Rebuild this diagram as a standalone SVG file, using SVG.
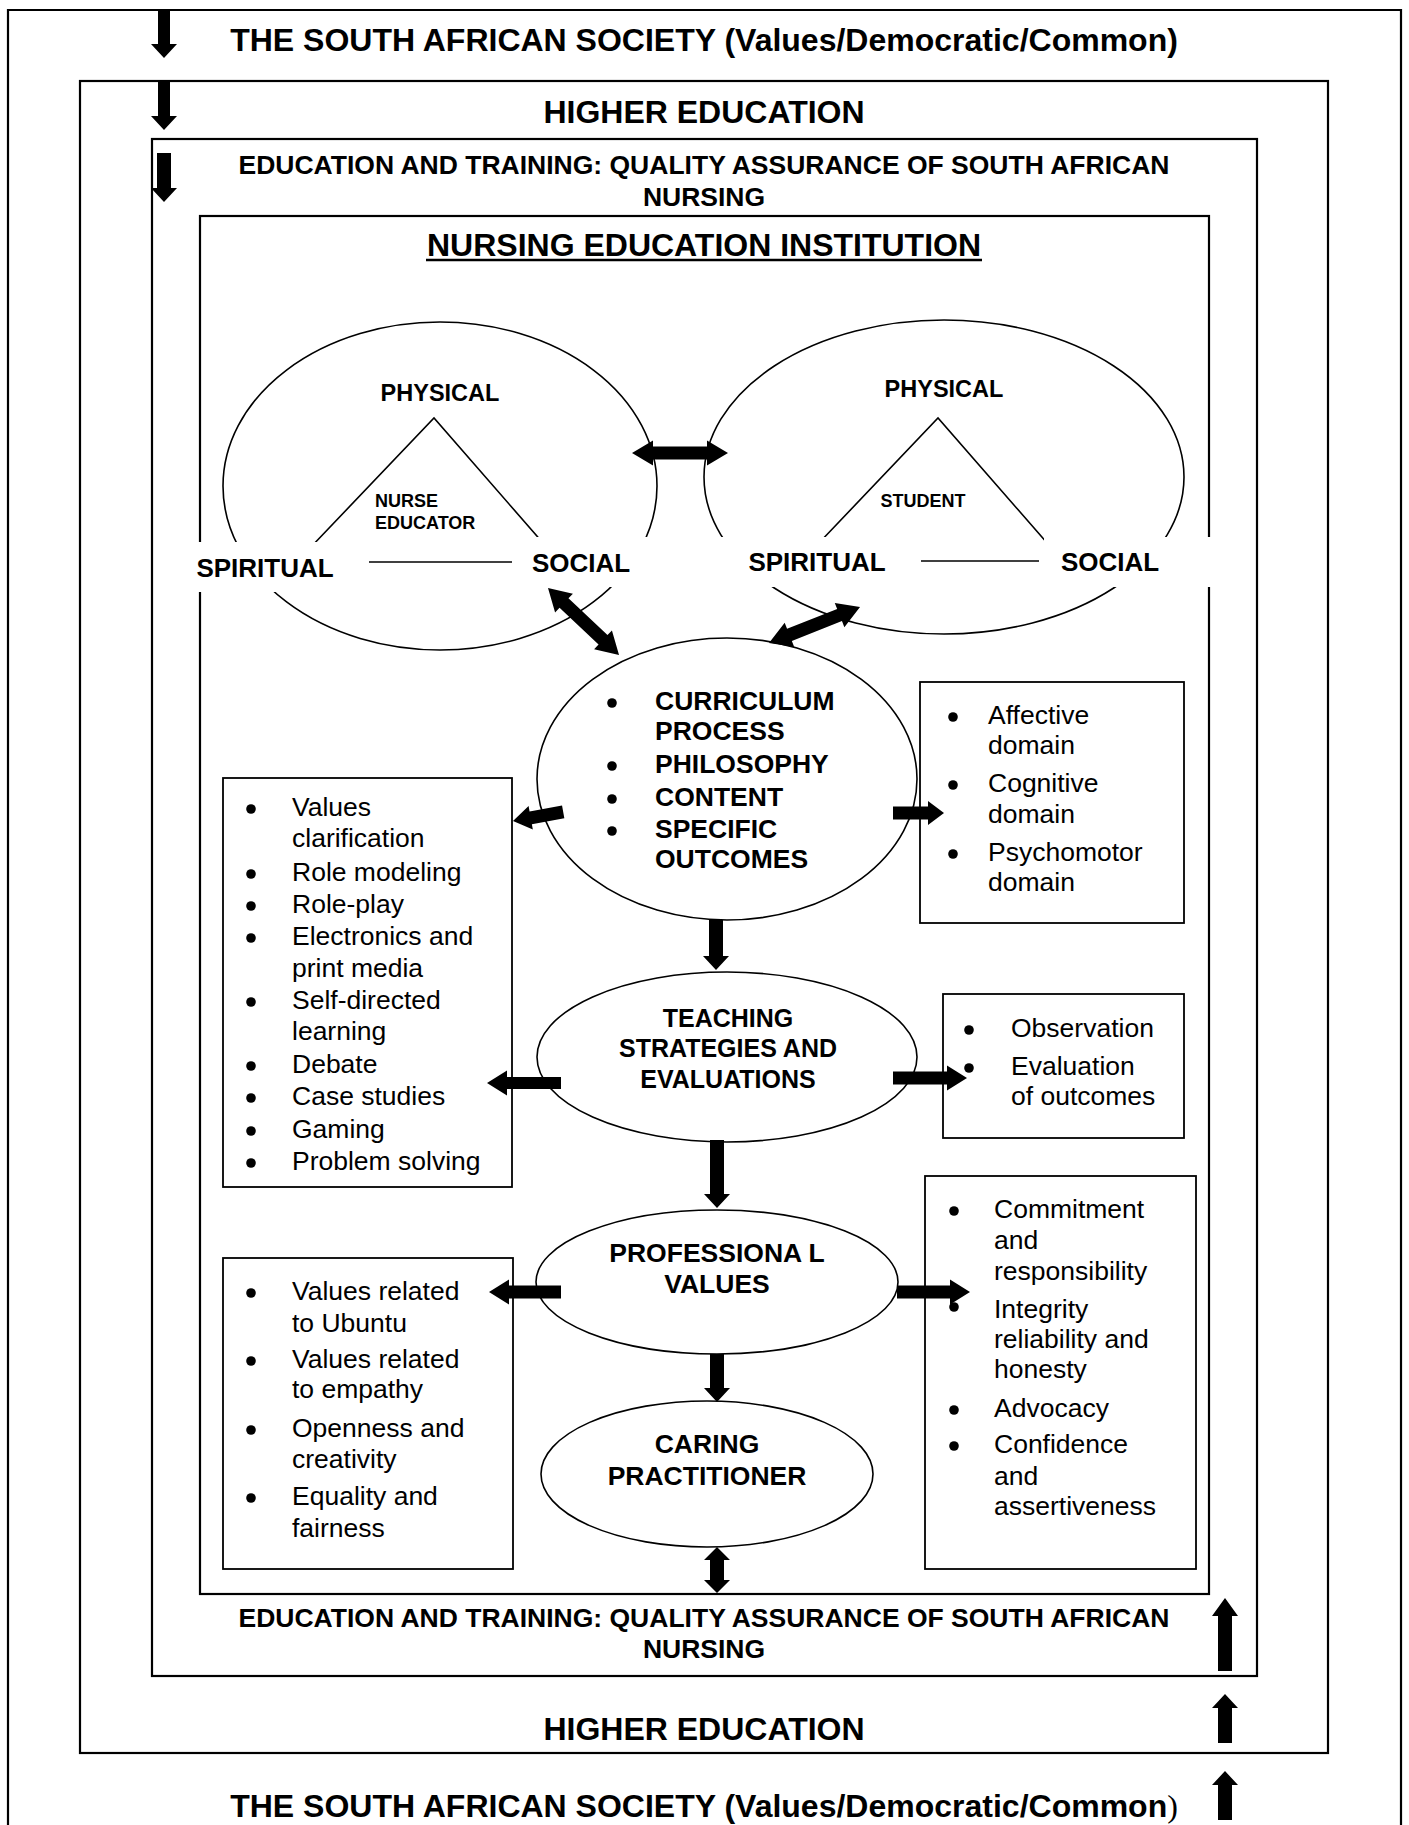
<svg xmlns="http://www.w3.org/2000/svg" width="1409" height="1825" viewBox="0 0 1409 1825">
<style>
text{font-family:"Liberation Sans",Arial,sans-serif;fill:#000}
.title{font-size:32px;font-weight:bold;text-anchor:middle}
.et{font-size:26.5px;font-weight:bold;text-anchor:middle}
.frame{fill:none;stroke:#000;stroke-width:2.2}
.ell{fill:#fff;stroke:#000;stroke-width:1.6}
.line{fill:none;stroke:#000;stroke-width:1.6}
.box{fill:#fff;stroke:#000;stroke-width:1.8}
.mask{fill:#fff}
.arr{fill:#000}
.dot{fill:#000}
.li{font-size:26.5px}
.hd{font-size:26.5px;font-weight:bold}
.hdc{font-size:26.5px;font-weight:bold;text-anchor:middle}
.dim{font-size:26px;font-weight:bold;text-anchor:middle}
.phys{font-size:23.5px;font-weight:bold;text-anchor:middle}
.small{font-size:18px;font-weight:bold}
</style>

<g id="society">
<path class="frame" d="M8,1830 V10 H1401 V1830"/>
<text class="title" x="704" y="51">THE SOUTH AFRICAN SOCIETY (Values/Democratic/Common)</text>
<text class="title" x="704" y="1817">THE SOUTH AFRICAN SOCIETY (Values/Democratic/Common<tspan style="font-family:'Liberation Serif',serif;font-weight:normal">)</tspan></text>
</g>

<g id="higher-education">
<rect class="frame" x="80" y="81" width="1248" height="1672"/>
<text class="title" x="704" y="123">HIGHER EDUCATION</text>
<text class="title" x="704" y="1740">HIGHER EDUCATION</text>
</g>

<g id="education-training">
<rect class="frame" x="152" y="139" width="1105" height="1537"/>
<text class="et" x="704" y="174">EDUCATION AND TRAINING: QUALITY ASSURANCE OF SOUTH AFRICAN</text>
<text class="et" x="704" y="206">NURSING</text>
<text class="et" x="704" y="1627">EDUCATION AND TRAINING: QUALITY ASSURANCE OF SOUTH AFRICAN</text>
<text class="et" x="704" y="1658">NURSING</text>
</g>

<g id="nursing-education-institution">
<rect class="frame" x="200" y="216" width="1009" height="1378"/>
<text class="title" x="704" y="256">NURSING EDUCATION INSTITUTION</text>
<line x1="426" y1="260" x2="982" y2="260" stroke="#000" stroke-width="2.5"/>
</g>

<g id="nurse-educator">
<ellipse class="ell" cx="440" cy="486" rx="217" ry="164"/>
<polyline class="line" points="310,548 434,418 543,543"/>
<line class="line" x1="369" y1="562" x2="512" y2="562"/>
<rect class="mask" x="188" y="542" width="157" height="50"/>
<rect class="mask" x="525" y="537" width="137" height="50"/>
<text class="phys" x="440" y="401">PHYSICAL</text>
<text class="small" x="375" y="507">NURSE</text>
<text class="small" x="375" y="529">EDUCATOR</text>
<text class="dim" x="265" y="577">SPIRITUAL</text>
<text class="dim" x="581" y="572">SOCIAL</text>
</g>

<g id="student">
<ellipse class="ell" cx="944" cy="477" rx="240" ry="157"/>
<polyline class="line" points="818,544 938,418 1048,544"/>
<line class="line" x1="921" y1="561" x2="1039" y2="561"/>
<rect class="mask" x="718" y="537" width="187" height="50"/>
<rect class="mask" x="1044" y="537" width="170" height="50"/>
<text class="phys" x="944" y="397">PHYSICAL</text>
<text class="small" x="923" y="507" text-anchor="middle">STUDENT</text>
<text class="dim" x="817" y="571">SPIRITUAL</text>
<text class="dim" x="1110" y="571">SOCIAL</text>
</g>

<g id="curriculum">
<ellipse class="ell" cx="727" cy="779" rx="190" ry="141"/>
<circle class="dot" cx="612" cy="703" r="4.8"/>
<text class="hd" x="655" y="710">CURRICULUM</text>
<text class="hd" x="655" y="740">PROCESS</text>
<circle class="dot" cx="612" cy="766" r="4.8"/>
<text class="hd" x="655" y="773">PHILOSOPHY</text>
<circle class="dot" cx="612" cy="799" r="4.8"/>
<text class="hd" x="655" y="806">CONTENT</text>
<circle class="dot" cx="612" cy="831" r="4.8"/>
<text class="hd" x="655" y="838">SPECIFIC</text>
<text class="hd" x="655" y="868">OUTCOMES</text>
</g>

<g id="teaching-methods">
<rect class="box" x="223" y="778" width="289" height="409"/>
<circle class="dot" cx="251" cy="809" r="4.8"/><text class="li" x="292" y="816">Values</text>
<text class="li" x="292" y="847">clarification</text>
<circle class="dot" cx="251" cy="874" r="4.8"/><text class="li" x="292" y="881">Role modeling</text>
<circle class="dot" cx="251" cy="906" r="4.8"/><text class="li" x="292" y="913">Role-play</text>
<circle class="dot" cx="251" cy="938" r="4.8"/><text class="li" x="292" y="945">Electronics and</text>
<text class="li" x="292" y="977">print media</text>
<circle class="dot" cx="251" cy="1002" r="4.8"/><text class="li" x="292" y="1009">Self-directed</text>
<text class="li" x="292" y="1040">learning</text>
<circle class="dot" cx="251" cy="1066" r="4.8"/><text class="li" x="292" y="1073">Debate</text>
<circle class="dot" cx="251" cy="1098" r="4.8"/><text class="li" x="292" y="1105">Case studies</text>
<circle class="dot" cx="251" cy="1131" r="4.8"/><text class="li" x="292" y="1138">Gaming</text>
<circle class="dot" cx="251" cy="1163" r="4.8"/><text class="li" x="292" y="1170">Problem solving</text>
</g>

<g id="domains">
<rect class="box" x="920" y="682" width="264" height="241"/>
<circle class="dot" cx="953" cy="717" r="4.8"/><text class="li" x="988" y="724">Affective</text>
<text class="li" x="988" y="754">domain</text>
<circle class="dot" cx="953" cy="785" r="4.8"/><text class="li" x="988" y="792">Cognitive</text>
<text class="li" x="988" y="823">domain</text>
<circle class="dot" cx="953" cy="854" r="4.8"/><text class="li" x="988" y="861">Psychomotor</text>
<text class="li" x="988" y="891">domain</text>
</g>

<g id="teaching-strategies">
<ellipse class="ell" cx="727" cy="1057" rx="190" ry="85"/>
<text class="hdc" x="728" y="1027" style="font-size:25px">TEACHING</text>
<text class="hdc" x="728" y="1057" style="font-size:25px">STRATEGIES AND</text>
<text class="hdc" x="728" y="1088" style="font-size:25px">EVALUATIONS</text>
</g>

<g id="evaluation">
<rect class="box" x="943" y="994" width="241" height="144"/>
<circle class="dot" cx="969" cy="1030" r="4.8"/><text class="li" x="1011" y="1037">Observation</text>
<circle class="dot" cx="969" cy="1068" r="4.8"/><text class="li" x="1011" y="1075">Evaluation</text>
<text class="li" x="1011" y="1105">of outcomes</text>
</g>

<g id="professional-values">
<ellipse class="ell" cx="717" cy="1282" rx="181" ry="72"/>
<text class="hdc" x="717" y="1262">PROFESSIONA L</text>
<text class="hdc" x="717" y="1293">VALUES</text>
</g>

<g id="values-left">
<rect class="box" x="223" y="1258" width="290" height="311"/>
<circle class="dot" cx="251" cy="1293" r="4.8"/><text class="li" x="292" y="1300">Values related</text>
<text class="li" x="292" y="1332">to Ubuntu</text>
<circle class="dot" cx="251" cy="1361" r="4.8"/><text class="li" x="292" y="1368">Values related</text>
<text class="li" x="292" y="1398">to empathy</text>
<circle class="dot" cx="251" cy="1430" r="4.8"/><text class="li" x="292" y="1437">Openness and</text>
<text class="li" x="292" y="1468">creativity</text>
<circle class="dot" cx="251" cy="1498" r="4.8"/><text class="li" x="292" y="1505">Equality and</text>
<text class="li" x="292" y="1537">fairness</text>
</g>

<g id="values-right">
<rect class="box" x="925" y="1176" width="271" height="393"/>
<circle class="dot" cx="954" cy="1211" r="4.8"/><text class="li" x="994" y="1218">Commitment</text>
<text class="li" x="994" y="1249">and</text>
<text class="li" x="994" y="1280">responsibility</text>
<circle class="dot" cx="954" cy="1307" r="4.8"/><text class="li" x="994" y="1318">Integrity</text>
<text class="li" x="994" y="1348">reliability and</text>
<text class="li" x="994" y="1378">honesty</text>
<circle class="dot" cx="954" cy="1410" r="4.8"/><text class="li" x="994" y="1417">Advocacy</text>
<circle class="dot" cx="954" cy="1446" r="4.8"/><text class="li" x="994" y="1453">Confidence</text>
<text class="li" x="994" y="1485">and</text>
<text class="li" x="994" y="1515">assertiveness</text>
</g>

<g id="caring-practitioner">
<ellipse class="ell" cx="707" cy="1474" rx="166" ry="73"/>
<text class="hdc" x="707" y="1453">CARING</text>
<text class="hdc" x="707" y="1485">PRACTITIONER</text>
</g>

<g id="connectors">
<polygon class="arr" points="158,10 170,10 170,44 177,44 164,58 151,44 158,44"/>
<polygon class="arr" points="158,81 170,81 170,116 177,116 164,130 151,116 158,116"/>
<polygon class="arr" points="157,153 171,153 171,188 177,188 164,202 151,188 157,188"/>
<polygon class="arr" points="1218,1671 1232,1671 1232,1616 1238,1616 1225,1598 1212,1616 1218,1616"/>
<polygon class="arr" points="1218,1743 1232,1743 1232,1708 1238,1708 1225,1694 1212,1708 1218,1708"/>
<polygon class="arr" points="1218,1820 1232,1820 1232,1785 1238,1785 1225,1771 1212,1785 1218,1785"/>
<polygon class="arr" points="632,453 653,440.5 653,446.5 707,446.5 707,440.5 728,453 707,465.5 707,459.5 653,459.5 653,465.5"/>
<polygon class="arr" transform="translate(548,588) rotate(43.3)" points="0,0 22,-13 22,-6.5 75.6,-6.5 75.6,-13 97.6,0 75.6,13 75.6,6.5 22,6.5 22,13"/>
<polygon class="arr" transform="translate(769,643) rotate(-21.6)" points="0,0 22,-13 22,-6.5 75.9,-6.5 75.9,-13 97.9,0 75.9,13 75.9,6.5 22,6.5 22,13"/>
<polygon class="arr" transform="translate(513,821) rotate(-10.2)" points="0,0 18,-12 18,-6.5 51,-6.5 51,6.5 18,6.5 18,12"/>
<polygon class="arr" points="893,806.5 928,806.5 928,801 944,813 928,825 928,819.5 893,819.5"/>
<polygon class="arr" points="709,920 723,920 723,956 729,956 716,970 703,956 709,956"/>
<polygon class="arr" points="487,1083 507,1070.5 507,1077 561,1077 561,1089 507,1089 507,1095.5"/>
<polygon class="arr" points="893,1071.5 947,1071.5 947,1065.5 967,1078 947,1090.5 947,1084.5 893,1084.5"/>
<polygon class="arr" points="710,1140 724,1140 724,1194 730,1194 717,1208 704,1194 710,1194"/>
<polygon class="arr" points="489,1292 509,1279.5 509,1285.5 561,1285.5 561,1298.5 509,1298.5 509,1304.5"/>
<polygon class="arr" points="897,1285.5 950,1285.5 950,1279.5 970,1292 950,1304.5 950,1298.5 897,1298.5"/>
<polygon class="arr" points="710,1354 724,1354 724,1388 730,1388 717,1402 704,1388 710,1388"/>
<polygon class="arr" points="717,1547 730,1560 724,1560 724,1580 730,1580 717,1593 704,1580 710,1580 710,1560 704,1560"/>
</g>
</svg>
